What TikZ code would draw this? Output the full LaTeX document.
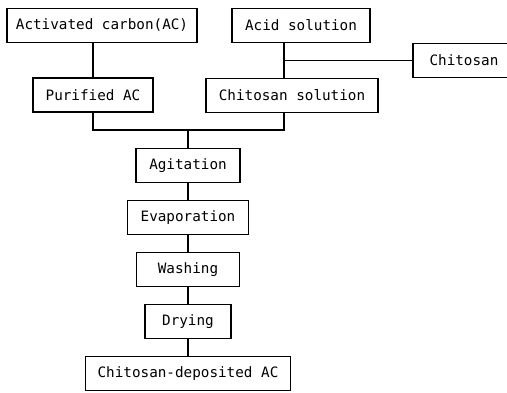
\documentclass[tikz,border=0pt]{standalone}
\usepackage{fontspec}
\newfontfamily\boxfont{DejaVu Sans Mono}
\usepackage{tikz}
\usetikzlibrary{positioning}

\begin{document}
\begin{tikzpicture}[x=1pt,y=-1pt,
    stepbox/.style={draw, line width=1.1pt, minimum height=34pt, inner sep=0pt,
        font=\boxfont\fontsize{14.3}{16}\selectfont},
    line/.style={line width=1.1pt},
    node distance=17pt]
    \useasboundingbox (0,0) rectangle (507,392);
    \node (AC) [stepbox, minimum width=190pt] at (102,25.5) {Activated carbon(AC)};
    \node (AS) [stepbox, minimum width=138pt] at (301,25.5) {Acid solution};
    \node (CH) [stepbox, minimum width=102pt] at (464,60.5) {Chitosan};
    \node (PA) [stepbox, minimum width=120pt] at (93,95) {Purified AC};
    \node (CS) [stepbox, minimum width=172pt] at (292,95.5) {Chitosan solution};
    \node (AG) [stepbox, minimum width=104pt] at (188,165.5) {Agitation};
    \node (EV) [stepbox, minimum width=121pt] [below=of AG] {Evaporation};
    \node (WA) [stepbox, minimum width=103pt] [below=of EV] {Washing};
    \node (DR) [stepbox, minimum width=86pt] [below=of WA] {Drying};
    \node (CD) [stepbox, minimum width=205pt] [below=of DR] {Chitosan-deposited AC};
    \coordinate (feed) at (284,130);
    \coordinate (merge) at (188,130);
    \draw [line] (PA.north) -- (PA.north |- AC.south);
    \draw [line] (AS.south -| feed) -- (CS.north -| feed);
    \draw [line] (CH.west) -- (CH.west -| feed);
    \draw [line] (PA.south) |- (feed) -- (feed |- CS.south);
    \draw [line] (merge) -- (AG);
    \draw [line] (AG) -- (EV);
    \draw [line] (EV) -- (WA);
    \draw [line] (WA) -- (DR);
    \draw [line] (DR) -- (CD);
\end{tikzpicture}
\end{document}
